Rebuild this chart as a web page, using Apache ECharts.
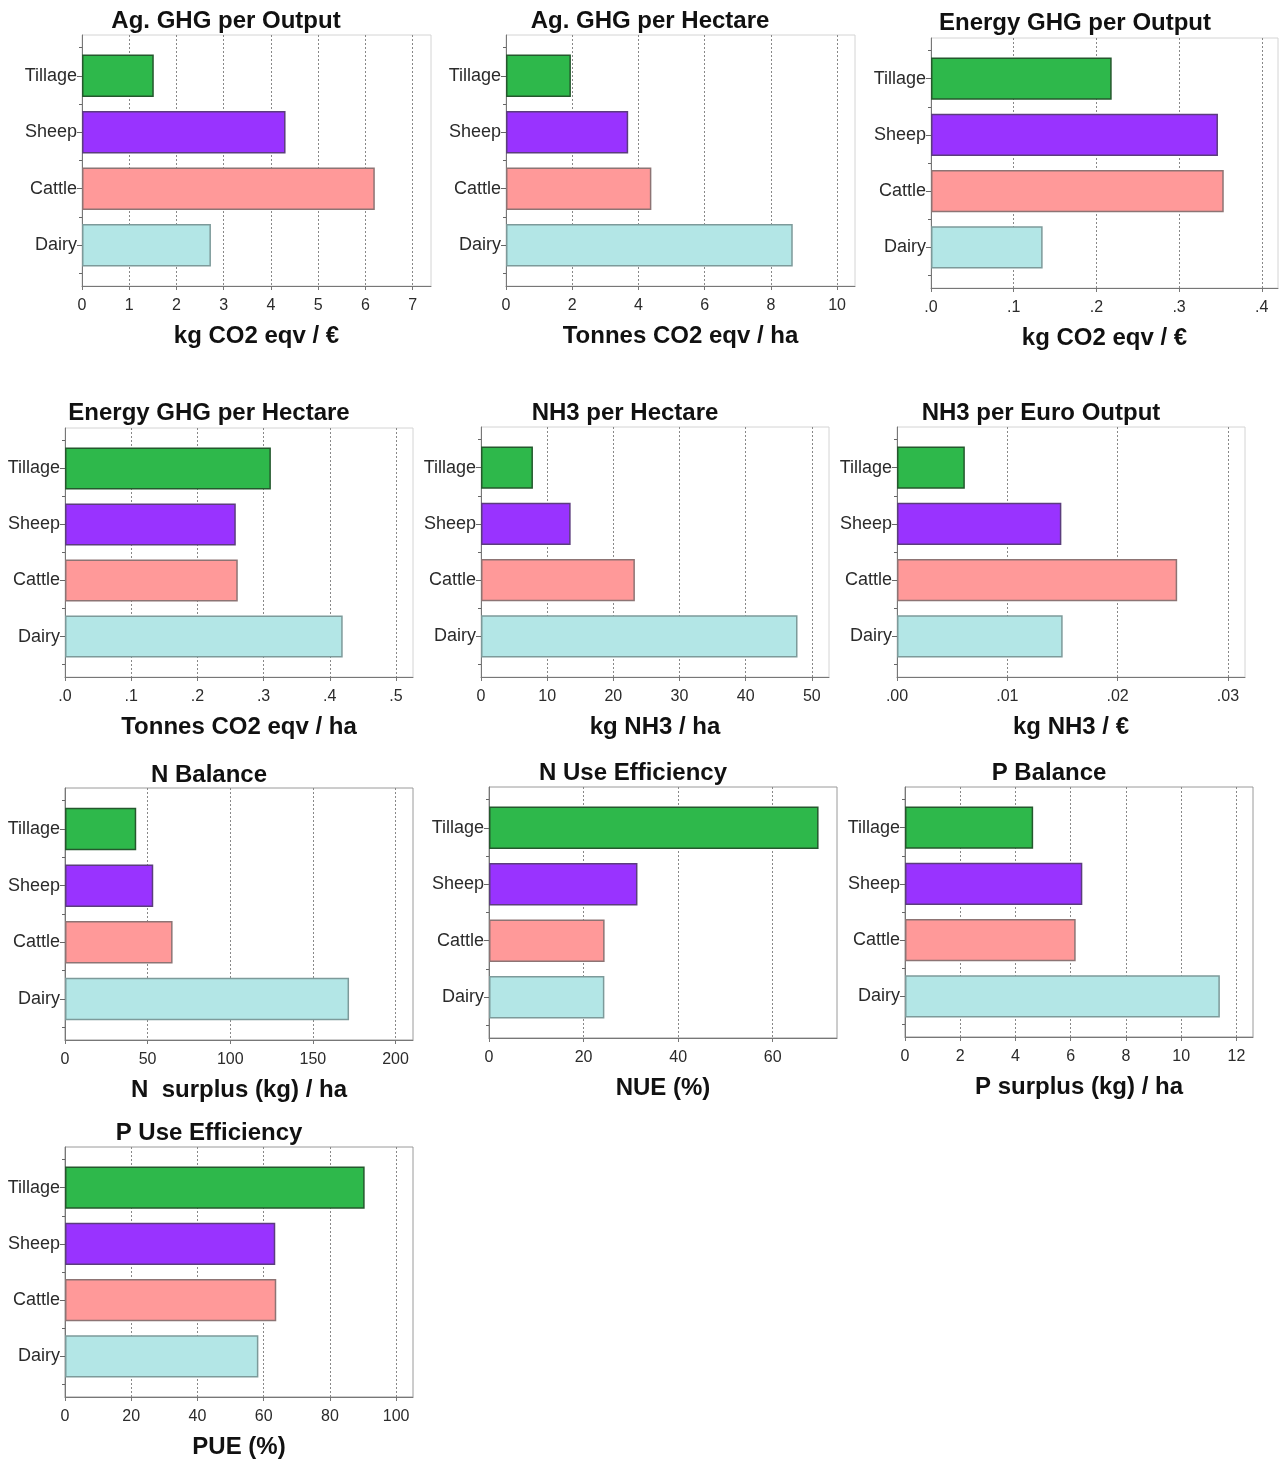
<!DOCTYPE html>
<html><head><meta charset="utf-8">
<script src="https://cdn.jsdelivr.net/npm/echarts@6/dist/echarts.min.js"></script>
<style>html,body{margin:0;padding:0;background:#fff}#c{width:1280px;height:1463px}</style>
</head><body><div id="c"></div>
<script>
// ---------- DATA ----------
const categories = ['Tillage', 'Sheep', 'Cattle', 'Dairy'];

const agGhgPerOutput   = [1.52, 4.31, 6.20, 2.73];      // kg CO2 eqv / €
const agGhgPerHectare  = [1.96, 3.69, 4.39, 8.66];      // Tonnes CO2 eqv / ha
const enGhgPerOutput   = [0.2185, 0.347, 0.354, 0.135]; // kg CO2 eqv / €
const enGhgPerHectare  = [0.311, 0.258, 0.261, 0.4195]; // Tonnes CO2 eqv / ha
const nh3PerHectare    = [7.85, 13.55, 23.26, 47.84];   // kg NH3 / ha
const nh3PerEuro       = [0.00615, 0.0149, 0.0254, 0.01502]; // kg NH3 / €
const nBalance         = [43.1, 53.4, 65.1, 171.9];     // N surplus kg / ha
const nUseEfficiency   = [69.7, 31.4, 24.45, 24.4];     // NUE %
const pBalance         = [4.64, 6.42, 6.18, 11.40];     // P surplus kg / ha
const pUseEfficiency   = [90.5, 63.5, 63.8, 58.4];      // PUE %

const ticksAgOut   = [0, 1, 2, 3, 4, 5, 6, 7];
const labelsAgOut  = ['0', '1', '2', '3', '4', '5', '6', '7'];
const ticksAgHa    = [0, 2, 4, 6, 8, 10];
const labelsAgHa   = ['0', '2', '4', '6', '8', '10'];
const ticksEnOut   = [0, 0.1, 0.2, 0.3, 0.4];
const labelsEnOut  = ['.0', '.1', '.2', '.3', '.4'];
const ticksEnHa    = [0, 0.1, 0.2, 0.3, 0.4, 0.5];
const labelsEnHa   = ['.0', '.1', '.2', '.3', '.4', '.5'];
const ticksNh3Ha   = [0, 10, 20, 30, 40, 50];
const labelsNh3Ha  = ['0', '10', '20', '30', '40', '50'];
const ticksNh3Eur  = [0, 0.01, 0.02, 0.03];
const labelsNh3Eur = ['.00', '.01', '.02', '.03'];
const ticksNBal    = [0, 50, 100, 150, 200];
const labelsNBal   = ['0', '50', '100', '150', '200'];
const ticksNue     = [0, 20, 40, 60];
const labelsNue    = ['0', '20', '40', '60'];
const ticksPBal    = [0, 2, 4, 6, 8, 10, 12];
const labelsPBal   = ['0', '2', '4', '6', '8', '10', '12'];
const ticksPue     = [0, 20, 40, 60, 80, 100];
const labelsPue    = ['0', '20', '40', '60', '80', '100'];

// ---------- STYLE / LAYOUT ----------
const FONT = '"Liberation Sans", Arial, Helvetica, sans-serif';
const FILL = ['#2eb84b', '#9933ff', '#ff9999', '#b3e6e6'];
const EDGE = ['#24582d', '#5b3d7d', '#8d7474', '#7d9a9a'];
const LIGHT = '#d4d4d4', DARK = '#9a9a9a';

const panels = [
  {title: 'Ag. GHG per Output',     name: 'kg CO2 eqv / €',       values: agGhgPerOutput,  ticks: ticksAgOut,  labels: labelsAgOut,  max: 7.39,    box: [82, 35, 431, 286],    tx: 226,  ty: 9,    border: LIGHT},
  {title: 'Ag. GHG per Hectare',    name: 'Tonnes CO2 eqv / ha',  values: agGhgPerHectare, ticks: ticksAgHa,   labels: labelsAgHa,   max: 10.54,   box: [506, 35, 855, 286],   tx: 650,  ty: 9,    border: LIGHT},
  {title: 'Energy GHG per Output',  name: 'kg CO2 eqv / €',       values: enGhgPerOutput,  ticks: ticksEnOut,  labels: labelsEnOut,  max: 0.4196,  box: [931, 38, 1278, 288],  tx: 1075, ty: 11,   border: LIGHT},
  {title: 'Energy GHG per Hectare', name: 'Tonnes CO2 eqv / ha',  values: enGhgPerHectare, ticks: ticksEnHa,   labels: labelsEnHa,   max: 0.5257,  box: [65, 428, 413, 677],   tx: 209,  ty: 401,  border: LIGHT},
  {title: 'NH3 per Hectare',        name: 'kg NH3 / ha',          values: nh3PerHectare,   ticks: ticksNh3Ha,  labels: labelsNh3Ha,  max: 52.6,    box: [481, 427, 829, 677],  tx: 625,  ty: 401,  border: LIGHT},
  {title: 'NH3 per Euro Output',    name: 'kg NH3 / €',           values: nh3PerEuro,      ticks: ticksNh3Eur, labels: labelsNh3Eur, max: 0.03155, box: [897, 427, 1245, 677], tx: 1041, ty: 401,  border: LIGHT},
  {title: 'N Balance',              name: 'N  surplus (kg) / ha', values: nBalance,        ticks: ticksNBal,   labels: labelsNBal,   max: 210.6,   box: [65, 788, 413, 1040],  tx: 209,  ty: 763,  border: DARK},
  {title: 'N Use Efficiency',       name: 'NUE (%)',              values: nUseEfficiency,  ticks: ticksNue,    labels: labelsNue,    max: 73.6,    box: [489, 787, 837, 1038], tx: 633,  ty: 761,  border: DARK},
  {title: 'P Balance',              name: 'P surplus (kg) / ha',  values: pBalance,        ticks: ticksPBal,   labels: labelsPBal,   max: 12.6,    box: [905, 787, 1253, 1037],tx: 1049, ty: 761,  border: DARK},
  {title: 'P Use Efficiency',       name: 'PUE (%)',              values: pUseEfficiency,  ticks: ticksPue,    labels: labelsPue,    max: 105.1,   box: [65, 1147, 413, 1397], tx: 209,  ty: 1121, border: DARK}
];

function labelFor(p, v) {
  for (let k = 0; k < p.ticks.length; k++) {
    if (Math.abs(p.ticks[k] - v) < 1e-9) return p.labels[k];
  }
  return '';
}

const grid = [], xAxis = [], yAxis = [], series = [], title = [];
panels.forEach(p => {
  const [l, t, r, b] = p.box;
  const w = r - l, h = b - t, pad = h * 0.05;
  const og = grid.length;
  grid.push({left: l, top: t, width: w, height: h, show: true, borderColor: p.border, borderWidth: 1,
             backgroundColor: 'transparent', containLabel: false, outerBoundsMode: 'none'});
  grid.push({left: l, top: t + pad, width: w, height: h - 2 * pad, show: false,
             containLabel: false, outerBoundsMode: 'none'});
  const oxi = xAxis.length;
  xAxis.push({
    type: 'value', gridIndex: og, min: 0, max: p.max, position: 'bottom',
    axisLine: {show: true, onZero: false, lineStyle: {color: '#777', width: 1}},
    axisTick: {show: true, length: 4, customValues: p.ticks, lineStyle: {color: '#777'}},
    axisLabel: {show: true, customValues: p.ticks, margin: 12, fontSize: 16, color: '#2b2b2b', fontFamily: FONT,
                formatter: v => labelFor(p, v)},
    splitLine: {show: true, lineStyle: {color: '#888', type: [2, 2], width: 1}},
    name: p.name, nameLocation: 'middle', nameGap: 38,
    nameTextStyle: {fontSize: 24, fontWeight: 'bold', color: '#111', fontFamily: FONT}
  });
  xAxis.push({type: 'value', gridIndex: og + 1, min: 0, max: p.max, show: false,
              splitLine: {show: false}});
  yAxis.push({type: 'value', gridIndex: og, min: 0, max: 1, position: 'left',
              axisLine: {show: true, onZero: false, lineStyle: {color: '#777', width: 1}},
              axisTick: {show: false}, axisLabel: {show: false}, splitLine: {show: false}});
  const lyi = yAxis.length;
  yAxis.push({type: 'category', gridIndex: og + 1, data: categories, inverse: true, position: 'left', offset: 0,
              axisLine: {show: false},
              axisTick: {show: true, alignWithLabel: true, length: 5, lineStyle: {color: '#666'}},
              axisLabel: {margin: 5, fontSize: 18, color: '#2b2b2b', fontFamily: FONT, padding: [3, 0, 0, 0]},
              splitLine: {show: false}});
  yAxis.push({type: 'category', gridIndex: og + 1, data: categories, inverse: true, position: 'left', offset: 0,
              axisLine: {show: false},
              axisTick: {show: true, length: 3, lineStyle: {color: '#666'}},
              axisLabel: {show: false}, splitLine: {show: false}});
  series.push({
    type: 'bar', xAxisIndex: oxi + 1, yAxisIndex: lyi, barCategoryGap: '25%', silent: true,
    data: p.values.map((v, k) => ({value: v, itemStyle: {color: FILL[k], borderColor: EDGE[k], borderWidth: 1.5}}))
  });
  title.push({text: p.title, left: p.tx, top: p.ty, textAlign: 'center', padding: 0,
              textStyle: {fontSize: 24, fontWeight: 'bold', color: '#111', fontFamily: FONT}});
});

const chart = echarts.init(document.getElementById('c'), null, {renderer: 'canvas', width: 1280, height: 1463});
chart.setOption({animation: false, backgroundColor: '#fff', title, grid, xAxis, yAxis, series, tooltip: {show: false}});
</script>
</body></html>
